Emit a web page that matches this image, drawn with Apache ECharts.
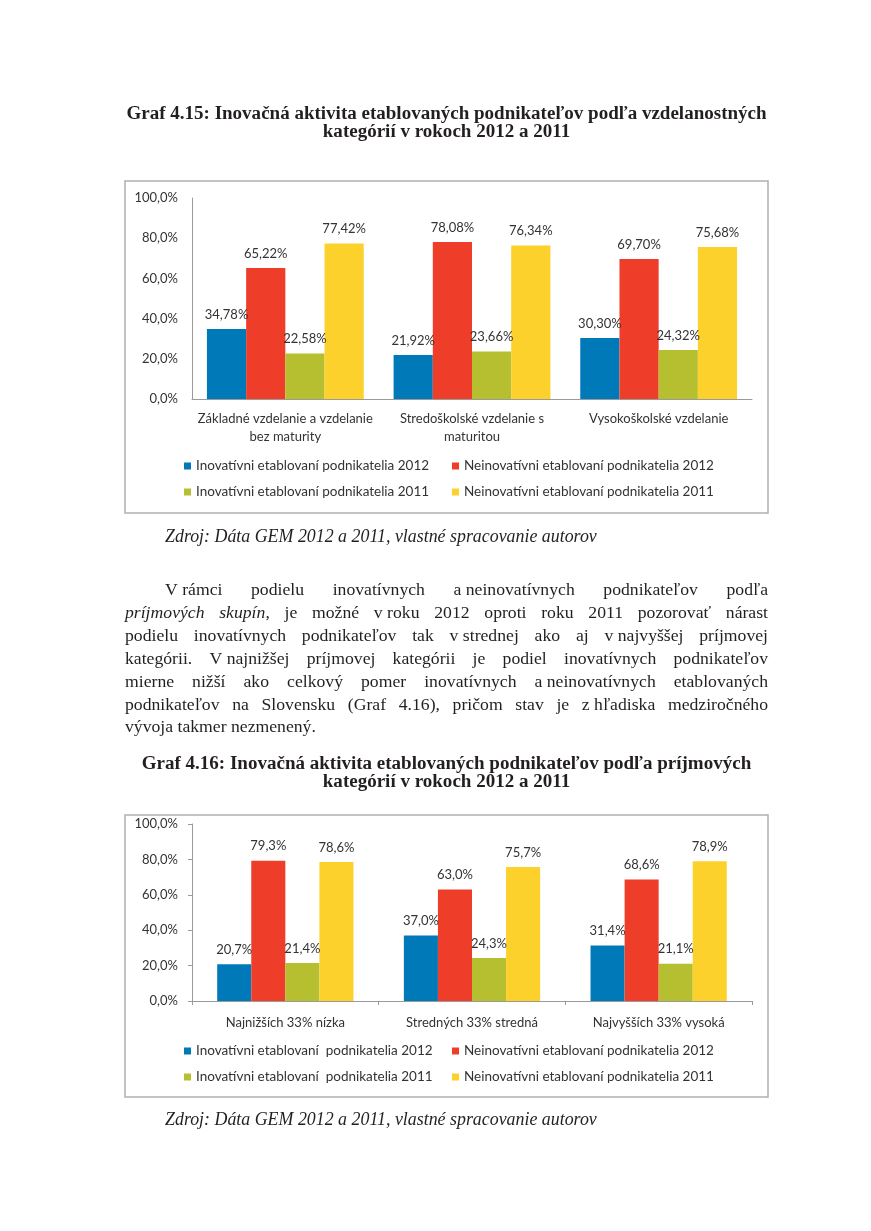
<!DOCTYPE html>
<html>
<head>
<meta charset="utf-8">
<script src="https://cdn.jsdelivr.net/npm/echarts@6/dist/echarts.min.js"></script>
<style>
  html, body { margin: 0; padding: 0; background: #fff; }
  #chart { position: absolute; left: 0; top: 0; width: 871px; height: 1231px; }
  #ov { position: absolute; left: 0; top: 0; width: 871px; height: 1231px; pointer-events: none; }
  .t { position: absolute; color: #231f20; font-family: "Liberation Serif", "DejaVu Serif", serif; line-height: 1.2; }
  .b { font-weight: bold; }
  .i { font-style: italic; }
  .nw { white-space: nowrap; display: inline-block; }
</style>
</head>
<body>
<div id="chart"></div>
<div id="ov"></div>
<script>
// ---------------- DATA ----------------
const categories1 = ['Základné vzdelanie a vzdelanie\nbez maturity', 'Stredoškolské vzdelanie s\nmaturitou', 'Vysokoškolské vzdelanie'];
const categories2 = ['Najnižších 33% nízka', 'Stredných 33% stredná', 'Najvyšších 33% vysoká'];

const names1 = ['Inovatívni etablovaní podnikatelia 2012', 'Neinovatívni etablovaní podnikatelia 2012',
                'Inovatívni etablovaní podnikatelia 2011', 'Neinovatívni etablovaní podnikatelia 2011'];
const names2 = ['Inovatívni etablovaní  podnikatelia 2012', 'Neinovatívni etablovaní podnikatelia 2012',
                'Inovatívni etablovaní  podnikatelia 2011', 'Neinovatívni etablovaní podnikatelia 2011'];

// Graf 4.15 (education)
const inov2012_edu    = [34.78, 21.92, 30.30];
const neinov2012_edu  = [65.22, 78.08, 69.70];
const inov2011_edu    = [22.58, 23.66, 24.32];
const neinov2011_edu  = [77.42, 76.34, 75.68];

// Graf 4.16 (income)
const inov2012_inc    = [20.7, 37.0, 31.4];
const neinov2012_inc  = [79.3, 63.0, 68.6];
const inov2011_inc    = [21.4, 24.3, 21.1];
const neinov2011_inc  = [78.6, 75.7, 78.9];

const yTicks = [0, 20, 40, 60, 80, 100];

const title1 = ['Graf 4.15: Inovačná aktivita etablovaných podnikateľov podľa vzdelanostných', 'kategórií v rokoch 2012 a 2011'];
const title2 = ['Graf 4.16: Inovačná aktivita etablovaných podnikateľov podľa príjmových', 'kategórií v rokoch 2012 a 2011'];
const source = 'Zdroj: Dáta GEM 2012 a 2011, vlastné spracovanie autorov';
const bodyLines = [
  'V<span class="nw">&nbsp;rámci</span> podielu inovatívnych <span class="nw">a&nbsp;neinovatívnych</span> podnikateľov podľa',
  '<i>príjmových skupín</i>, je možné <span class="nw">v&nbsp;roku</span> 2012 oproti roku 2011 pozorovať nárast',
  'podielu inovatívnych podnikateľov tak <span class="nw">v&nbsp;strednej</span> ako aj <span class="nw">v&nbsp;najvyššej</span> príjmovej',
  'kategórii. <span class="nw">V&nbsp;najnižšej</span> príjmovej kategórii je podiel inovatívnych podnikateľov',
  'mierne nižší ako celkový pomer inovatívnych <span class="nw">a&nbsp;neinovatívnych</span> etablovaných',
  'podnikateľov na Slovensku (Graf 4.16), pričom stav je <span class="nw">z&nbsp;hľadiska</span> medziročného',
  'vývoja takmer nezmenený.'
];

// ---------------- CHART ----------------
const COLORS = ['#0079b8', '#ee3e2a', '#b6bf2f', '#fdd12c'];
const SANS = 'Lato, "Open Sans", sans-serif';
const TXT = '#333333';

function pct(v, d) { return v.toFixed(d).replace('.', ',') + '%'; }

function makeSeries(names, arrays, idx, dec, gapPct) {
  return arrays.map((arr, i) => ({
    type: 'bar', name: names[i], data: arr,
    xAxisIndex: idx, yAxisIndex: idx,
    barGap: '0%', barCategoryGap: gapPct,
    itemStyle: { color: COLORS[i] },
    label: { show: true, position: 'top', distance: 8, color: TXT, fontFamily: SANS, fontSize: 13,
             formatter: p => pct(p.value, dec) },
    emphasis: { disabled: true },
    animation: false
  }));
}

function yAxis(idx, ticks) {
  return {
    type: 'value', gridIndex: idx, min: yTicks[0], max: yTicks[yTicks.length - 1], interval: yTicks[1] - yTicks[0],
    axisLine: { show: true, lineStyle: { color: '#9a9a9a', width: 1 } },
    axisTick: { show: ticks, length: 4, lineStyle: { color: '#9a9a9a' } },
    splitLine: { show: false },
    axisLabel: { margin: 14, color: TXT, fontFamily: SANS, fontSize: 13, formatter: v => pct(v, 1) }
  };
}
function xAxis(idx, cats, ticks, margin) {
  return {
    type: 'category', gridIndex: idx, data: cats,
    axisLine: { show: true, lineStyle: { color: '#9a9a9a', width: 1 } },
    axisTick: { show: ticks, length: 4, alignWithLabel: false, lineStyle: { color: '#9a9a9a' } },
    axisLabel: { margin: margin, color: TXT, fontFamily: SANS, fontSize: 13, lineHeight: 18, interval: 0 }
  };
}
function legend(name, x, cy) {
  return {
    data: [name], left: x, top: cy - 8, padding: 0, itemGap: 0,
    icon: 'rect', itemWidth: 7, itemHeight: 7, selectedMode: false,
    textStyle: { color: TXT, fontFamily: SANS, fontSize: 13.5, lineHeight: 16 }
  };
}

const chart = echarts.init(document.getElementById('chart'), null, { renderer: 'canvas' });
chart.setOption({
  animation: false,
  grid: [
    { left: 192, top: 198, width: 560, height: 201 },
    { left: 192, top: 824, width: 560, height: 177 }
  ],
  xAxis: [xAxis(0, categories1, false, 11), xAxis(1, categories2, true, 13)],
  yAxis: [yAxis(0, false), yAxis(1, true)],
  legend: [
    legend(names1[0], 184, 466), legend(names1[1], 452, 466),
    legend(names1[2], 184, 492), legend(names1[3], 452, 492),
    legend(names2[0], 184, 1051), legend(names2[1], 452, 1051),
    legend(names2[2], 184, 1077), legend(names2[3], 452, 1077)
  ],
  graphic: [
    { type: 'rect', shape: { x: 125, y: 181, width: 643, height: 332 }, style: { fill: 'none', stroke: '#b0b0b0', lineWidth: 1.5 }, z: -1 },
    { type: 'rect', shape: { x: 125, y: 815, width: 643, height: 282 }, style: { fill: 'none', stroke: '#b0b0b0', lineWidth: 1.5 }, z: -1 }
  ],
  series: [
    ...makeSeries(names1, [inov2012_edu, neinov2012_edu, inov2011_edu, neinov2011_edu], 0, 2, '16%'),
    ...makeSeries(names2, [inov2012_inc, neinov2012_inc, inov2011_inc, neinov2011_inc], 1, 1, '27%')
  ]
});

// ---------------- TEXT OVERLAY ----------------
const ov = document.getElementById('ov');
function mk(html, cls) {
  const d = document.createElement('div');
  d.className = 't ' + (cls || '');
  d.innerHTML = html;
  ov.appendChild(d);
  return d;
}
function natW(el, fs) {
  el.style.fontSize = fs + 'px';
  el.style.whiteSpace = 'nowrap';
  el.style.width = 'auto';
  return el.getBoundingClientRect().width;
}
function setTop(el, fs, cy) { el.style.top = (cy - 0.64 * fs) + 'px'; }

// Titles
const tEls = [mk(title1[0], 'b'), mk(title1[1], 'b'), mk(title2[0], 'b'), mk(title2[1], 'b')];
const fsT = (20 * 643 / natW(tEls[0], 20) + 20 * 608 / natW(tEls[2], 20)) / 2;
const tCY = [114, 132, 764, 782];
tEls.forEach((el, i) => {
  const w = natW(el, fsT);
  el.style.left = (446.5 - w / 2) + 'px';
  setTop(el, fsT, tCY[i]);
});

// Sources
const s1 = mk(source, 'i'), s2 = mk(source, 'i');
const fsS = 20 * 432 / natW(s1, 20);
[[s1, 537], [s2, 1120]].forEach(([el, cy]) => {
  natW(el, fsS);
  el.style.left = '165px';
  setTop(el, fsS, cy);
});

// Body
const bCY = [590, 613, 636, 659, 682, 705, 727];
const bEls = bodyLines.map(h => mk(h));
let fsB = 20 * 191 / natW(bEls[6], 20);
bEls.forEach((el, i) => {
  const avail = (i === 0 ? 603 : 643) - 2;
  const w = natW(el, fsB);
  if (i < 6 && w > avail) fsB = fsB * avail / w;
});
bEls.forEach((el, i) => {
  el.style.fontSize = fsB + 'px';
  setTop(el, fsB, bCY[i]);
  if (i < 6) {
    const left = i === 0 ? 165 : 125;
    el.style.left = left + 'px';
    el.style.width = (768 - left) + 'px';
    el.style.whiteSpace = 'normal';
    el.style.textAlign = 'justify';
    el.style.textAlignLast = 'justify';
  } else {
    el.style.left = '125px';
  }
});
</script>
</body>
</html>
